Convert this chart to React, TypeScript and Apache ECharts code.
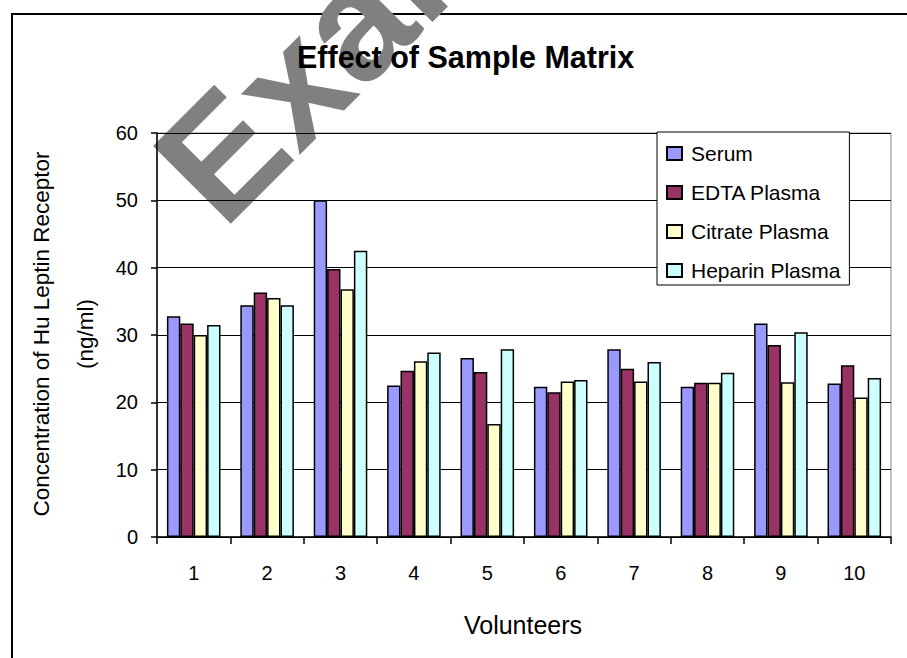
import React, { useEffect, useRef } from "react";
import * as echarts from "echarts";

const FONT = "'Liberation Sans', Arial, sans-serif";

const categories = ["1", "2", "3", "4", "5", "6", "7", "8", "9", "10"];
const seriesNames = ["Serum", "EDTA Plasma", "Citrate Plasma", "Heparin Plasma"];
const serum = [32.8, 34.4, 50.0, 22.5, 26.6, 22.3, 27.9, 22.3, 31.7, 22.8];
const edta = [31.7, 36.3, 39.8, 24.7, 24.5, 21.5, 25.0, 22.9, 28.5, 25.5];
const citrate = [30.0, 35.5, 36.8, 26.1, 16.8, 23.1, 23.1, 22.9, 23.0, 20.7];
const heparin = [31.5, 34.4, 42.5, 27.4, 27.9, 23.3, 26.0, 24.4, 30.4, 23.6];
const colors = ["#9999FF", "#993366", "#FFFFCC", "#CCFFFF"];

const titleText = "Effect of Sample Matrix";
const yTitleLine1 = "Concentration of Hu Leptin Receptor";
const yTitleLine2 = "(ng/ml)";
const xTitle = "Volunteers";
const watermark = "Example";

export default function App() {
  const ref = useRef<HTMLDivElement>(null);

  useEffect(() => {
    if (!ref.current) return;
    const chart = echarts.init(ref.current, null, { renderer: "svg" });
    const data = [serum, edta, citrate, heparin];
    chart.setOption({
      animation: false,
      backgroundColor: "#ffffff",
      title: {
        text: titleText,
        left: 297,
        top: 41,
        padding: 0,
        textStyle: { fontFamily: FONT, fontSize: 30.5, fontWeight: "bold", color: "#000" },
      },
      legend: {
        orient: "vertical",
        left: 657,
        top: 132,
        padding: [11, 9, 4, 9],
        itemGap: 18,
        itemWidth: 15,
        itemHeight: 13,
        borderColor: "#000",
        borderWidth: 1,
        backgroundColor: "#fff",
        icon: "rect",
        data: seriesNames,
        textStyle: { fontFamily: FONT, fontSize: 21, color: "#000", lineHeight: 20, padding: [0, 0, 0, 4] },
      },
      grid: {
        left: 157,
        right: 16,
        top: 133,
        bottom: 121,
        show: true,
        borderColor: "#888",
        borderWidth: 1,
        backgroundColor: "transparent",
      },
      xAxis: {
        type: "category",
        data: categories,
        z: 1,
        axisLine: { lineStyle: { color: "#000", width: 1.5 } },
        axisTick: { show: true, length: 7, lineStyle: { color: "#000", width: 1.5 } },
        axisLabel: { fontFamily: FONT, fontSize: 20, color: "#000", margin: 26 },
        splitLine: { show: false },
      },
      yAxis: {
        type: "value",
        min: 0,
        max: 60,
        interval: 10,
        z: 1,
        axisLine: { show: true, lineStyle: { color: "#000", width: 1.5 } },
        axisTick: { show: true, length: 6, lineStyle: { color: "#000", width: 1.5 } },
        axisLabel: { fontFamily: FONT, fontSize: 20, color: "#000", margin: 19 },
        splitLine: { show: true, lineStyle: { color: "#000", width: 1.2 } },
      },
      series: seriesNames.map((name, i) => ({
        name,
        type: "bar",
        data: data[i],
        barGap: "0%",
        barCategoryGap: "27%",
        itemStyle: { color: colors[i], borderColor: "#000", borderWidth: 1.5 },
      })),
      graphic: [
        {
          type: "rect",
          z: 0,
          silent: true,
          shape: { x: 12, y: 14, width: 1000, height: 1000 },
          style: { fill: "none", stroke: "#000", lineWidth: 2 },
        },
        {
          type: "text",
          z: 0.5,
          silent: true,
          x: 184,
          y: 192,
          rotation: Math.PI / 4,
          style: {
            text: watermark,
            fontSize: 160,
            fontWeight: "bold",
            fontFamily: FONT,
            fill: "#808080",
            textAlign: "left",
            textVerticalAlign: "middle",
          },
        },
        {
          type: "text",
          z: 5,
          x: 41,
          y: 334,
          rotation: Math.PI / 2,
          style: {
            text: yTitleLine1,
            fontSize: 22.5,
            fontFamily: FONT,
            fill: "#000",
            textAlign: "center",
            textVerticalAlign: "middle",
          },
        },
        {
          type: "text",
          z: 5,
          x: 85,
          y: 334,
          rotation: Math.PI / 2,
          style: {
            text: yTitleLine2,
            fontSize: 22.5,
            fontFamily: FONT,
            fill: "#000",
            textAlign: "center",
            textVerticalAlign: "middle",
          },
        },
        {
          type: "text",
          z: 5,
          x: 523,
          y: 625,
          style: {
            text: xTitle,
            fontSize: 25,
            fontFamily: FONT,
            fill: "#000",
            textAlign: "center",
            textVerticalAlign: "middle",
          },
        },
      ],
    });
    return () => chart.dispose();
  }, []);

  return (
    <div
      ref={ref}
      style={{ position: "absolute", left: 0, top: 0, width: 907, height: 658 }}
    />
  );
}
